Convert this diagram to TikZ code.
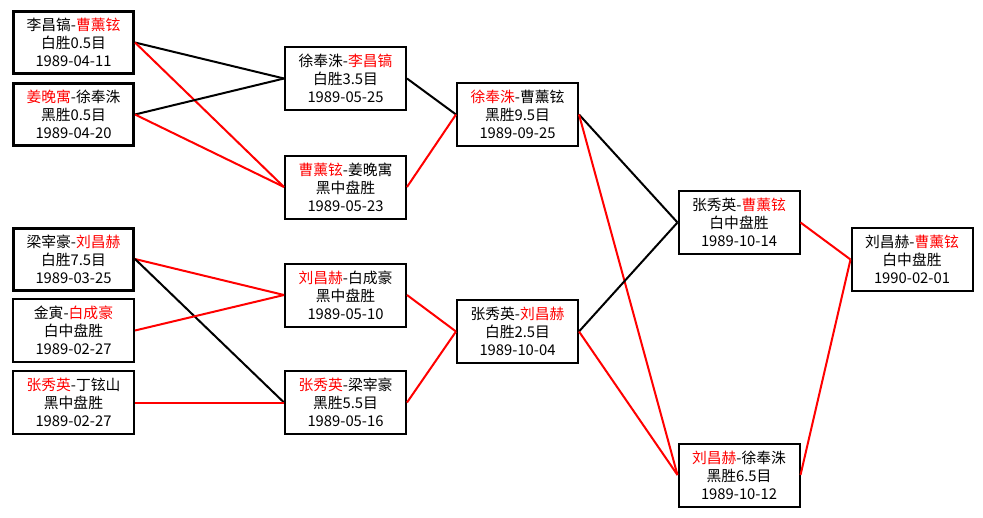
\documentclass[tikz,border=0pt]{standalone}
\usepackage{fontspec}
\setmainfont{Noto Sans CJK SC}
\usetikzlibrary{positioning}

\tikzset{
  game/.style={draw, rectangle, line width=2pt, fill=white, align=center,
    minimum width=121pt, minimum height=63pt, inner sep=1pt,
    font=\fontsize{14.8}{18}\selectfont},
  seed/.style={game, line width=3pt, minimum width=120pt, minimum height=62pt},
  lose/.style={line width=2pt},
  win/.style={line width=2pt, red}
}
\newcommand{\victor}[1]{\textcolor{red}{#1}}

\begin{document}
\begin{tikzpicture}[x=1pt, y=-1pt]
  \fill [white] (0,0) rectangle (983,517);
  \useasboundingbox (0,0) rectangle (983,517);

  % first round
  \node [seed] (lcg) at (73.5,42.5) {李昌镐-\victor{曹薰铉}\\白胜0.5目\\1989-04-11};
  \node [seed] (jwy) at (73.5,114.5) {\victor{姜晚寓}-徐奉洙\\黑胜0.5目\\1989-04-20};
  \node [seed] (lzh) at (73.5,259) {梁宰豪-\victor{刘昌赫}\\白胜7.5目\\1989-03-25};
  \node [game] (jy) at (73.5,330.5) {金寅-\victor{白成豪}\\白中盘胜\\1989-02-27};
  \node [game] (zxy) at (73.5,402.5) {\victor{张秀英}-丁铉山\\黑中盘胜\\1989-02-27};

  % quarter finals
  \node [game] (xfz) at (345.5,78.5) {徐奉洙-\victor{李昌镐}\\白胜3.5目\\1989-05-25};
  \node [game] (cxx) at (345.5,187) {\victor{曹薰铉}-姜晚寓\\黑中盘胜\\1989-05-23};
  \node [game] (lch) at (345.5,295) {\victor{刘昌赫}-白成豪\\黑中盘胜\\1989-05-10};
  \node [game] (zxl) at (345.5,402.5) {\victor{张秀英}-梁宰豪\\黑胜5.5目\\1989-05-16};

  % semi finals
  \node [game] (semia) at (517.5,114.5) {\victor{徐奉洙}-曹薰铉\\黑胜9.5目\\1989-09-25};
  \node [game] (semib) at (517.5,331.5) {张秀英-\victor{刘昌赫}\\白胜2.5目\\1989-10-04};

  % finals
  \node [game] (fina) at (739,222.5) {张秀英-\victor{曹薰铉}\\白中盘胜\\1989-10-14};
  \node [game] (finb) at (739,475) {\victor{刘昌赫}-徐奉洙\\黑胜6.5目\\1989-10-12};
  \node [game] (champ) at (912,259.5) {刘昌赫-\victor{曹薰铉}\\白中盘胜\\1990-02-01};

  \draw [lose] (lcg.east) -- (xfz.west);
  \draw [win] (lcg.east) -- (cxx.west);
  \draw [lose] (jwy.east) -- (xfz.west);
  \draw [win] (jwy.east) -- (cxx.west);
  \draw [win] (lzh.east) -- (lch.west);
  \draw [lose] (lzh.east) -- (zxl.west);
  \draw [win] (jy.east) -- (lch.west);
  \draw [win] (zxy.east) -- (zxl.west);

  \draw [lose] (xfz.east) -- (semia.west);
  \draw [win] (cxx.east) -- (semia.west);
  \draw [win] (lch.east) -- (semib.west);
  \draw [win] (zxl.east) -- (semib.west);

  \draw [lose] (semia.east) -- (fina.west);
  \draw [win] (semia.east) -- (finb.west);
  \draw [lose] (semib.east) -- (fina.west);
  \draw [win] (semib.east) -- (finb.west);

  \draw [win] (fina.east) -- (champ.west);
  \draw [win] (finb.east) -- (champ.west);
\end{tikzpicture}
\end{document}
